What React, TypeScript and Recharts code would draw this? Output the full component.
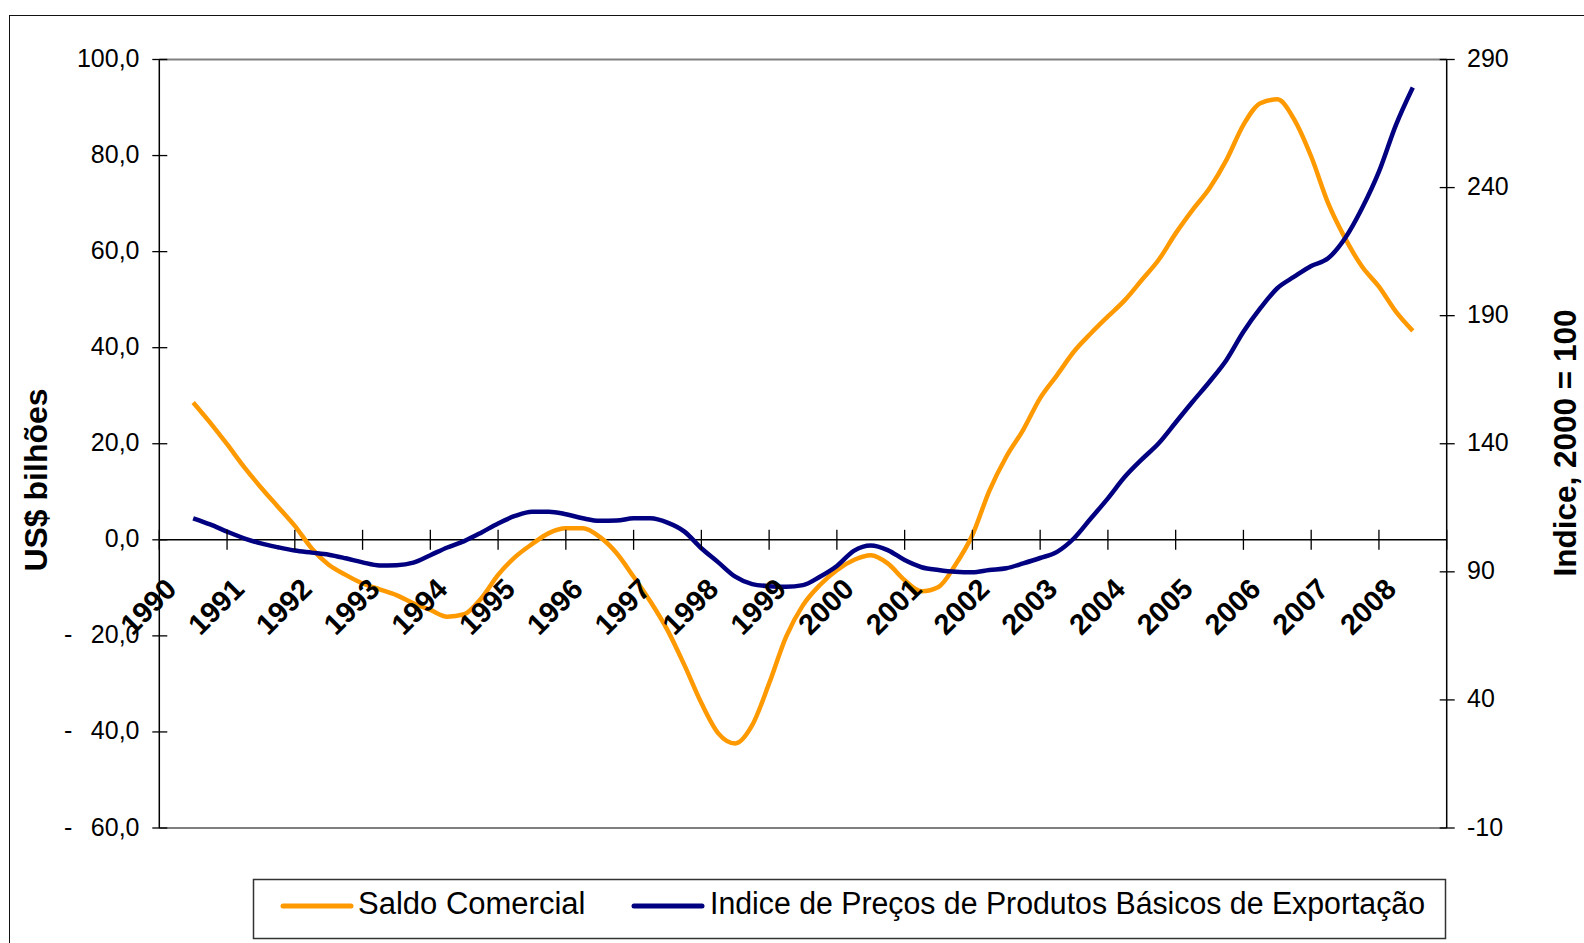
import { LineChart, Line, XAxis, YAxis, ReferenceLine, Label } from 'recharts'

// Saldo comercial (US$ bilhões), quarterly readings from 1990 Q3 to 2008 Q3
const SALDO = [
  28.6, 24.4,
  19.9, 15.2, 10.9, 6.9,
  2.9, -1.8, -5.2, -7.3,
  -9.1, -10.3, -11.5, -13.2,
  -14.6, -16.0, -15.5, -12.2,
  -7.3, -3.6, -0.9, 1.4,
  2.4, 2.4, 0.6, -2.8,
  -7.7, -12.9, -18.8, -26.1,
  -34.0, -40.3, -42.4, -38.6,
  -29.9, -20.2, -13.6, -9.4,
  -6.3, -4.2, -3.2, -4.9,
  -8.4, -10.7, -9.8, -5.2,
  1.0, 10.2, 17.3, 22.9,
  29.5, 34.3, 39.2, 43.0,
  46.5, 49.9, 54.1, 58.3,
  63.8, 68.7, 73.2, 79.1,
  86.4, 90.9, 91.7, 87.5,
  79.8, 70.1, 62.8, 56.9,
  52.7, 47.5, 43.5,
]

// Indice de preços de produtos básicos de exportação (2000 = 100)
const INDICE = [
  110.9, 108.5,
  105.7, 103.1, 101.1, 99.6,
  98.3, 97.5, 96.7, 95.3,
  93.7, 92.5, 92.6, 93.6,
  96.5, 99.5, 102.0, 105.3,
  108.9, 111.8, 113.5, 113.5,
  112.5, 110.9, 109.9, 110.0,
  110.9, 110.9, 109.2, 105.7,
  99.2, 93.7, 88.1, 85.2,
  84.4, 84.2, 84.8, 88.1,
  92.3, 98.2, 100.3, 98.5,
  94.6, 91.8, 90.7, 90.0,
  89.8, 90.7, 91.4, 93.3,
  95.4, 97.8, 103.1, 110.9,
  118.7, 127.1, 133.9, 140.2,
  148.3, 156.4, 164.2, 172.7,
  183.7, 192.9, 200.7, 205.2,
  209.4, 212.4, 220.2, 231.9,
  246.2, 264.4, 279.1,
]

const FIRST_PERIOD = 1990.5
const YEARS = [1990, 1991, 1992, 1993, 1994, 1995, 1996, 1997, 1998, 1999, 2000, 2001, 2002, 2003, 2004, 2005, 2006, 2007, 2008, 2009]
const LEFT_TICKS = [-60, -40, -20, 0, 20, 40, 60, 80, 100]
const RIGHT_TICKS = [-10, 40, 90, 140, 190, 240, 290]

const data = SALDO.map((s, i) => ({ t: FIRST_PERIOD + i / 4, saldo: s, indice: INDICE[i] }))

const W = 1584
const H = 943
const PLOT_LEFT = 159.3
const PLOT_RIGHT = 1446.7
const PLOT_TOP = 59.5
const PLOT_BOTTOM = 828
const ZERO_Y = PLOT_TOP + ((PLOT_BOTTOM - PLOT_TOP) * 100) / 160
const HALF_YEAR = (PLOT_RIGHT - PLOT_LEFT) / 19 / 2

const ORANGE = '#FF9900'
const NAVY = '#000080'
const FONT = '"Liberation Sans", Arial, sans-serif'

function YearTick({ x, payload }: any) {
  const v = payload.value
  const lx = x + HALF_YEAR - 15
  const ly = ZERO_Y + 51
  return (
    <g>
      <line x1={x} x2={x} y1={ZERO_Y - 10} y2={ZERO_Y + 10} stroke="#000" strokeWidth={1.3} />
      {v < 2009 && (
        <text x={lx} y={ly} transform={`rotate(-45 ${lx} ${ly})`} textAnchor="end"
          fontFamily={FONT} fontWeight="bold" fontSize={29} fill="#000">{v}</text>
      )}
    </g>
  )
}

function LeftTick({ y, payload }: any) {
  const v = payload.value
  const num = Math.abs(v).toFixed(1).replace('.', ',')
  return (
    <g>
      <line x1={PLOT_LEFT - 7} x2={PLOT_LEFT + 8} y1={y} y2={y} stroke="#000" strokeWidth={1.3} />
      {v < 0 && <text x={64} y={y + 7.5} fontFamily={FONT} fontSize={25} fill="#000">-</text>}
      <text x={139.5} y={y + 7.5} textAnchor="end" fontFamily={FONT} fontSize={25} fill="#000">{num}</text>
    </g>
  )
}

function RightTick({ y, payload }: any) {
  return (
    <g>
      <line x1={PLOT_RIGHT - 7} x2={PLOT_RIGHT + 8} y1={y} y2={y} stroke="#000" strokeWidth={1.3} />
      <text x={1467} y={y + 7.5} fontFamily={FONT} fontSize={25} fill="#000">{payload.value}</text>
    </g>
  )
}

export default function App() {
  return (
    <div style={{ position: 'fixed', inset: 0, overflow: 'hidden', background: '#fff', fontFamily: FONT }}>
      <div style={{ position: 'absolute', left: 9, top: 15, width: 1700, height: 1100, border: '1.5px solid #111' }} />
      <div style={{ position: 'absolute', left: 0, top: 0 }}>
        <LineChart width={W} height={H} data={data}
          margin={{ top: PLOT_TOP, right: 0, bottom: 0, left: 0 }}>
          <XAxis dataKey="t" type="number" domain={[1990, 2009]} ticks={YEARS} interval={0}
            height={H - PLOT_BOTTOM} axisLine={false} tickLine={false} tick={<YearTick />} />
          <YAxis yAxisId="left" domain={[-60, 100]} ticks={LEFT_TICKS} interval={0} width={PLOT_LEFT}
            axisLine={{ stroke: '#000', strokeWidth: 1.5 }} tickLine={false} tick={<LeftTick />}>
            <Label content={() => (
              <text x={47} y={480} transform="rotate(-90 47 480)" textAnchor="middle"
                fontFamily={FONT} fontWeight="bold" fontSize={32} fill="#000">US$ bilhões</text>
            )} />
          </YAxis>
          <YAxis yAxisId="right" orientation="right" domain={[-10, 290]} ticks={RIGHT_TICKS} interval={0}
            width={W - PLOT_RIGHT} axisLine={{ stroke: '#000', strokeWidth: 1.5 }} tickLine={false}
            tick={<RightTick />}>
            <Label content={() => (
              <text x={1576} y={443} transform="rotate(-90 1576 443)" textAnchor="middle"
                fontFamily={FONT} fontWeight="bold" fontSize={31.5} fill="#000">Indice, 2000 = 100</text>
            )} />
          </YAxis>
          <ReferenceLine yAxisId="left" y={100} stroke="#808080" strokeWidth={2} />
          <ReferenceLine yAxisId="left" y={-60} stroke="#808080" strokeWidth={2} />
          <ReferenceLine yAxisId="left" y={0} stroke="#000" strokeWidth={1.5} />
          <Line yAxisId="left" dataKey="saldo" name="Saldo Comercial" type="monotone" stroke={ORANGE}
            strokeWidth={4.5} dot={false} activeDot={false} isAnimationActive={false} />
          <Line yAxisId="right" dataKey="indice" name="Indice de Preços de Produtos Básicos de Exportação"
            type="monotone" stroke={NAVY} strokeWidth={4.5} dot={false} activeDot={false} isAnimationActive={false} />
        </LineChart>
      </div>
      <svg width={W} height={H} style={{ position: 'absolute', left: 0, top: 0, pointerEvents: 'none' }}>
        <rect x={253.5} y={879.5} width={1192} height={59} fill="none" stroke="#333" strokeWidth={1.5} />
        <line x1={283} x2={351} y1={906} y2={906} stroke={ORANGE} strokeWidth={5} strokeLinecap="round" />
        <text x={358} y={914} fontFamily={FONT} fontSize={31} fill="#000">Saldo Comercial</text>
        <line x1={634} x2={702} y1={906} y2={906} stroke={NAVY} strokeWidth={5} strokeLinecap="round" />
        <text x={710} y={914} fontFamily={FONT} fontSize={31} fill="#000" textLength={715}
          lengthAdjust="spacingAndGlyphs">Indice de Preços de Produtos Básicos de Exportação</text>
      </svg>
    </div>
  )
}
